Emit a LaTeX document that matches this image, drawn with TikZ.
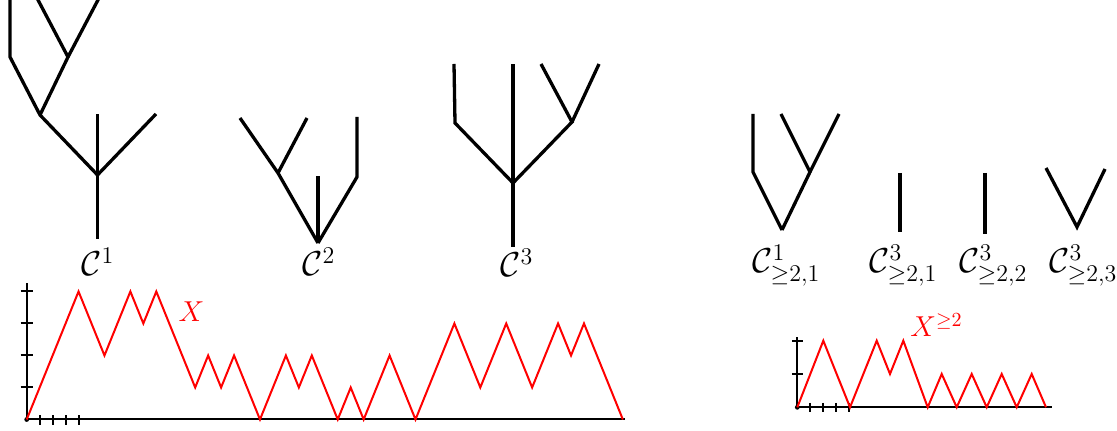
\documentclass[tikz,border=0pt]{standalone}
\usepackage{amssymb}
\begin{document}
\begin{tikzpicture}[x=0.5pt,y=-0.5pt,
  tree/.style={line width=1.65pt, line join=miter, line cap=butt},
  axis/.style={line width=1pt},
  walk/.style={red, line width=1pt, line join=miter},
  lab/.style={anchor=base west, inner sep=0pt, font=\Large},
  rlab/.style={anchor=base west, inner sep=0pt, font=\LARGE}]
\useasboundingbox (0,0) rectangle (1117,431);
\begin{scope}
\clip (0,0) rectangle (1117,431);
% tree C1
\coordinate (a1r) at (97.5,239);
\coordinate (a1j) at (97.5,175);
\coordinate (a1u) at (97.5,114);
\coordinate (a1e) at (156,114);
\coordinate (a1k) at (40,115);
\coordinate (a1l) at (10,57);
\coordinate (a1lt) at (10,-5);
\coordinate (a1m) at (68,57);
\coordinate (a1ma) at (35.4,-5);
\coordinate (a1mb) at (100.6,-5);
\draw[tree] (a1r) -- (a1j) -- (a1u);
\draw[tree] (a1j) -- (a1e);
\draw[tree] (a1j) -- (a1k) -- (a1l) -- (a1lt);
\draw[tree] (a1k) -- (a1m) -- (a1ma);
\draw[tree] (a1m) -- (a1mb);
\end{scope}
% tree C2
\coordinate (a2r) at (318,243);
\coordinate (a2k) at (278,173);
\coordinate (a2a) at (240,118);
\coordinate (a2b) at (307,118);
\coordinate (a2c) at (318,176);
\coordinate (a2d) at (357,177);
\coordinate (a2e) at (357,117);
\draw[tree] (a2r) -- (a2k) -- (a2a);
\draw[tree] (a2k) -- (a2b);
\draw[tree] (a2r) -- (a2c);
\draw[tree] (a2r) -- (a2d) -- (a2e);
% tree C3
\coordinate (a3r) at (513,247);
\coordinate (a3j) at (513,183);
\coordinate (a3u) at (513,64);
\coordinate (a3k) at (455,123);
\coordinate (a3kt) at (454,64);
\coordinate (a3m) at (572,122);
\coordinate (a3ma) at (541,64);
\coordinate (a3mb) at (599,64);
\draw[tree] (a3r) -- (a3j) -- (a3u);
\draw[tree] (a3j) -- (a3k) -- (a3kt);
\draw[tree] (a3j) -- (a3m) -- (a3ma);
\draw[tree] (a3m) -- (a3mb);
% right trees
\coordinate (b1r) at (782,230);
\coordinate (b1k) at (753,172);
\coordinate (b1kt) at (753,114);
\coordinate (b1m) at (810,172);
\coordinate (b1ma) at (781,114);
\coordinate (b1mb) at (839,114);
\draw[tree] (b1r) -- (b1k) -- (b1kt);
\draw[tree] (b1r) -- (b1m) -- (b1ma);
\draw[tree] (b1m) -- (b1mb);
\coordinate (b2a) at (900,173);
\coordinate (b2b) at (900,232);
\draw[tree] (b2a) -- (b2b);
\coordinate (b3a) at (985,173);
\coordinate (b3b) at (985,234);
\draw[tree] (b3a) -- (b3b);
\coordinate (b4a) at (1046,168);
\coordinate (b4r) at (1077,227);
\coordinate (b4b) at (1105,169);
\draw[tree] (b4a) -- (b4r) -- (b4b);
% labels
\node[rlab] (l1) at (81,276) {$\mathcal{C}^1$};
\node[rlab] (l2) at (302,276) {$\mathcal{C}^2$};
\node[rlab] (l3) at (500,277) {$\mathcal{C}^3$};
\node[rlab] (l4) at (752,273) {$\mathcal{C}^1_{\geq 2,1}$};
\node[rlab] (l5) at (869,273) {$\mathcal{C}^3_{\geq 2,1}$};
\node[rlab] (l6) at (959,273) {$\mathcal{C}^3_{\geq 2,2}$};
\node[rlab] (l7) at (1049,273) {$\mathcal{C}^3_{\geq 2,3}$};
% big graph
\begin{scope}[shift={(26.7,419.5)}, x=6.48pt, y=16pt]
  \coordinate (o) at (0,0);
  \coordinate (xe) at (46.17,0);
  \coordinate (ye) at (0,4.27);
  \draw[axis] (xe) -- (o) -- (ye);
  \foreach \k in {1,...,4} {
    \draw[axis] (-0.46,\k) -- (0.46,\k);
    \draw[axis] (\k,0.14) -- (\k,-0.18);
  }
  \fill (o) circle [radius=1.2pt];
  \draw[walk] (0,0) -- (4,4) -- (6,2) -- (8,4) -- (9,3) -- (10,4) -- (13,1)
    -- (14,2) -- (15,1) -- (16,2) -- (18,0) -- (20,2) -- (21,1) -- (22,2)
    -- (24,0) -- (25,1) -- (26,0) -- (28,2) -- (30,0) -- (33,3) -- (35,1)
    -- (37,3) -- (39,1) -- (41,3) -- (42,2) -- (43,3) -- (46,0);
\end{scope}
\node[red, font=\Large, inner sep=0pt] (xl) at (191.5,312) {$X$};
% small graph
\coordinate (so) at (797.3,407.3);
\coordinate (sxe) at (1051.7,407.3);
\coordinate (sye) at (797.3,337.3);
\draw[axis] (sxe) -- (so) -- (sye);
\foreach \yy in {341.5,374} {
  \draw[axis] (791.8,\yy) -- (802.8,\yy);
}
\foreach \xx in {810,823.3,836,849.3} {
  \draw[axis] (\xx,403) -- (\xx,412);
}
\fill (so) circle [radius=1.2pt];
\draw[walk] (797.3,407.3) -- (823.3,340.7) -- (850,407.3) -- (876.7,340.7)
  -- (890,374) -- (903.3,340.7) -- (927.7,407.3) -- (941.7,374) -- (956.7,407.3)
  -- (971.7,374) -- (986.7,407.3) -- (1001.7,374) -- (1016.7,407.3)
  -- (1031.7,374) -- (1046,407.3);
\node[lab, red] (xl2) at (910,337) {$X^{\geq 2}$};
\end{tikzpicture}
\end{document}
